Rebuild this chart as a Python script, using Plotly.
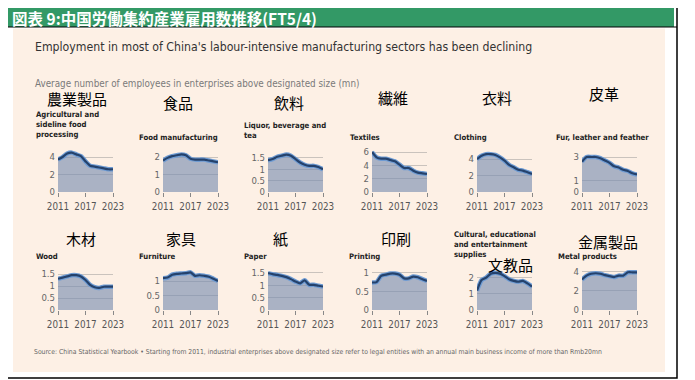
import plotly.graph_objects as go

# page body has an 8px default margin; figure is sized to fit the window exactly
OFF = 8
W, H = 695 - OFF, 380 - OFF

years = list(range(2011, 2024))

# ---- data (mn employees) ----
agri = [3.7, 4.0, 4.4, 4.5, 4.3, 4.1, 3.5, 3.0, 2.9, 2.8, 2.7, 2.6, 2.6]
food = [1.8, 1.95, 2.05, 2.1, 2.15, 2.1, 1.9, 1.85, 1.85, 1.85, 1.8, 1.75, 1.7]
liquor = [1.4, 1.45, 1.55, 1.6, 1.65, 1.6, 1.45, 1.3, 1.2, 1.15, 1.15, 1.1, 1.0]
textiles = [6.0, 5.2, 5.0, 5.0, 4.8, 4.6, 4.1, 3.6, 3.6, 3.2, 2.9, 2.8, 2.7]
clothing = [4.0, 4.4, 4.6, 4.6, 4.5, 4.2, 3.8, 3.3, 3.0, 2.7, 2.6, 2.4, 2.2]
fur = [2.6, 3.0, 3.0, 3.0, 2.9, 2.7, 2.5, 2.2, 2.1, 1.9, 1.8, 1.6, 1.5]
wood = [1.3, 1.35, 1.4, 1.45, 1.45, 1.4, 1.25, 1.05, 0.95, 0.92, 0.97, 0.97, 0.97]
furniture = [1.1, 1.12, 1.22, 1.25, 1.26, 1.27, 1.3, 1.18, 1.2, 1.18, 1.15, 1.08, 1.0]
paper = [1.49, 1.45, 1.42, 1.38, 1.33, 1.25, 1.15, 1.08, 1.2, 1.02, 1.02, 0.98, 0.95]
printing = [0.74, 0.75, 0.92, 0.95, 0.98, 0.98, 0.95, 0.85, 0.85, 0.9, 0.88, 0.83, 0.78]
cultural = [1.2, 1.85, 2.0, 2.25, 2.3, 2.25, 2.1, 1.9, 1.8, 1.75, 1.8, 1.65, 1.45]
metal = [3.2, 3.6, 3.8, 3.85, 3.8, 3.65, 3.55, 3.45, 3.6, 3.6, 3.95, 3.95, 3.95]

series = [agri, food, liquor, textiles, clothing, fur,
          wood, furniture, paper, printing, cultural, metal]

en_labels = ["Agricultural and<br>sideline food<br>processing", "Food manufacturing",
             "Liquor, beverage and<br>tea", "Textiles", "Clothing", "Fur, leather and feather",
             "Wood", "Furniture", "Paper", "Printing",
             "Cultural, educational<br>and entertainment<br>supplies", "Metal products"]
jp_labels = ["農業製品", "食品", "飲料", "繊維", "衣料", "皮革",
             "木材", "家具", "紙", "印刷", "文教品", "金属製品"]

y_ticks = [[0, 2, 4], [0, 1, 2], [0, 0.5, 1, 1.5], [0, 2, 4, 6], [0, 2, 4], [0, 1, 3],
           [0, 0.5, 1, 1.5], [0, 0.5, 1], [0, 0.5, 1, 1.5], [0, 0.5, 1], [0, 1, 2], [0, 2, 4]]
y_max = [4.8, 2.4, 1.85, 6.3, 5.1, 3.6, 1.75, 1.45, 1.7, 1.13, 2.6, 4.4]
x_ticks = [2011, 2017, 2023]

title_jp = "図表 9:中国労働集約産業雇用数推移(FT5/4)"
title_en = "Employment in most of China's labour-intensive manufacturing sectors has been declining"
subtitle = "Average number of employees in enterprises above designated size (mn)"
source = ("Source: China Statistical Yearbook • Starting from 2011, industrial enterprises above designated "
          "size refer to legal entities with an annual main business income of more than Rmb20mn")

# ---- layout geometry (window pixels) ----
col_x = [58, 163, 268, 372, 477, 582]
pw = 55
row_y = [(150, 192), (268, 310)]

NARROW = "Liberation Sans Narrow, DejaVu Sans Condensed, Arial Narrow, sans-serif"
CJK = "Noto Sans CJK JP, Noto Sans CJK SC, sans-serif"


def fx(px):
    return (px - OFF) / W


def fy(py):
    return 1 - (py - OFF) / H


fig = go.Figure()
layout = {}
for i, vals in enumerate(series):
    r, c = divmod(i, 6)
    n = "" if i == 0 else str(i + 1)
    xa, ya = "x" + n, "y" + n
    fig.add_trace(go.Scatter(x=years, y=vals, xaxis=xa, yaxis=ya, mode="lines",
                             line=dict(color="#6E9BD3", width=4.5, shape="spline", smoothing=0.6),
                             fill="tozeroy", fillcolor="rgba(120,140,176,0.62)",
                             hoverinfo="skip", showlegend=False))
    fig.add_trace(go.Scatter(x=years, y=vals, xaxis=xa, yaxis=ya, mode="lines",
                             line=dict(color="#25426C", width=2.2, shape="spline", smoothing=0.6),
                             showlegend=False))
    y0, y1 = row_y[r]
    layout["xaxis" + n] = dict(domain=[fx(col_x[c]), fx(col_x[c] + pw)], anchor=ya,
                               range=[2011, 2023], tickvals=x_ticks, ticks="outside",
                               ticklen=4, tickcolor="#888", showgrid=False, zeroline=False,
                               showline=False, automargin=False, ticklabelstandoff=1,
                               tickfont=dict(family=NARROW, size=9.8, color="#555"),
                               fixedrange=True)
    layout["yaxis" + n] = dict(domain=[fy(y1), fy(y0)], anchor=xa, range=[0, y_max[i]],
                               tickvals=y_ticks[i], showgrid=True, gridcolor="rgba(140,140,140,0.45)",
                               gridwidth=1, zeroline=False, showline=False, ticks="",
                               automargin=False, ticklabelstandoff=2,
                               tickfont=dict(family=NARROW, size=9.5, color="#666"),
                               fixedrange=True)

fig.update_layout(**layout)

shapes = [
    dict(type="rect", xref="paper", yref="paper", x0=fx(6), x1=fx(677), y0=fy(378), y1=fy(5),
         line=dict(color="black", width=1.5), fillcolor="white", layer="below"),
    dict(type="rect", xref="paper", yref="paper", x0=fx(6), x1=fx(674), y0=fy(27), y1=fy(5.5),
         line=dict(width=0), fillcolor="#339966", layer="below"),
    dict(type="line", xref="paper", yref="paper", x0=fx(6), x1=fx(677), y0=fy(27), y1=fy(27),
         line=dict(color="black", width=1.2), layer="below"),
    dict(type="rect", xref="paper", yref="paper", x0=fx(13), x1=fx(665), y0=fy(372), y1=fy(28.5),
         line=dict(width=0), fillcolor="#FDF0E5", layer="below"),
]

ann = []


def text(x, y, s, size, color, family, xanchor="left", bold=False, pad=1):
    ann.append(dict(xref="paper", yref="paper", x=fx(x), y=fy(y), text=("<b>%s</b>" % s) if bold else s,
                    showarrow=False, xanchor=xanchor, yanchor="middle", align="left", borderpad=pad,
                    font=dict(size=size, color=color, family=family)))


text(11, 18, title_jp, 15.5, "white", CJK, bold=True, pad=0)
text(33, 47, title_en, 12.2, "#333", NARROW)
text(33, 83, subtitle, 9.8, "#7a7a7a", NARROW)
text(32, 352, source, 6.8, "#666", NARROW)

en_pos = [(34, 125), (137, 137), (242, 131), (348, 137), (452, 137), (554, 137),
          (34, 257), (137, 257), (242, 257), (347, 257), (452, 244), (556, 257)]
for (x, y), s in zip(en_pos, en_labels):
    ann.append(dict(xref="paper", yref="paper", x=fx(x), y=fy(y), text="<b>%s</b>" % s,
                    showarrow=False, xanchor="left", yanchor="middle", align="left",
                    font=dict(size=7.7, color="#222", family=NARROW)))

jp_pos = [(77, 98), (178, 102), (289, 102), (393, 97), (497, 97), (604, 93),
          (81, 238), (181, 238), (280, 238), (396, 238), (510, 264), (608, 241)]
for (x, y), s in zip(jp_pos, jp_labels):
    text(x, y, s, 15, "black", CJK, xanchor="center")

fig.update_layout(width=W, height=H, margin=dict(l=0, r=0, t=0, b=0, autoexpand=False),
                  paper_bgcolor="white", plot_bgcolor="rgba(0,0,0,0)",
                  shapes=shapes, annotations=ann, showlegend=False)

fig.write_html("out.html", config={"displayModeBar": False})
